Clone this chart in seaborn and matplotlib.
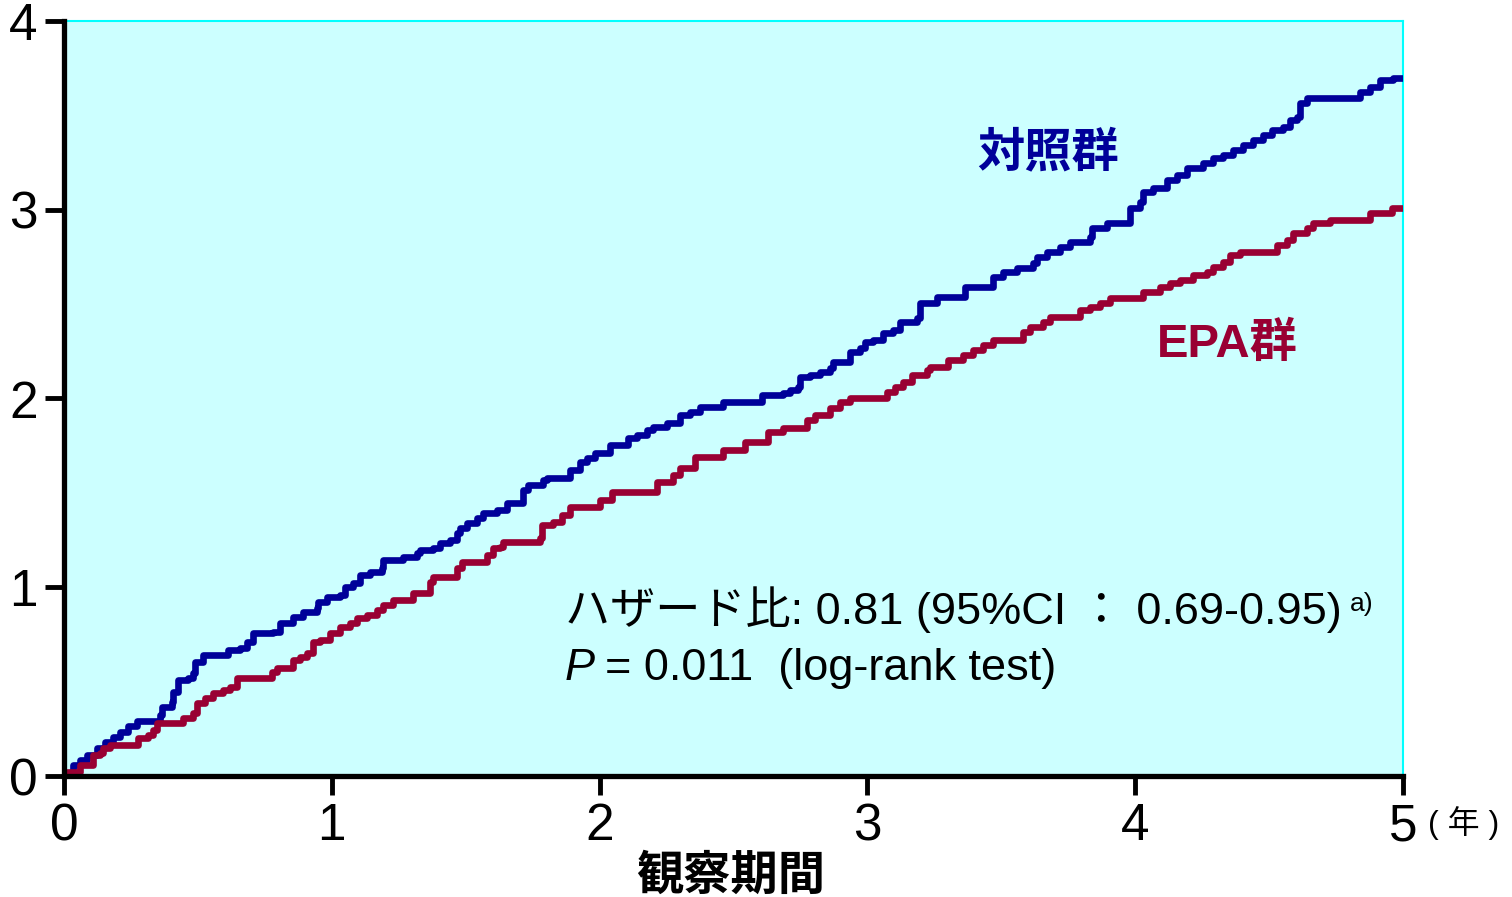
import matplotlib
matplotlib.use("Agg")
import matplotlib.pyplot as plt
import seaborn as sns
import pandas as pd

# cumulative incidence (%) by follow-up year (step points)
ctrl_t = [0, 0.011, 0.034, 0.060, 0.086, 0.123, 0.153, 0.183, 0.209, 0.239, 0.273, 0.358,
          0.366, 0.403, 0.407, 0.426, 0.463, 0.482, 0.489, 0.519, 0.612, 0.657, 0.683,
          0.706, 0.780, 0.807, 0.855, 0.892, 0.945, 0.948, 0.982, 1.031, 1.049, 1.079,
          1.105, 1.143, 1.187, 1.191, 1.266, 1.318, 1.329, 1.378, 1.404, 1.441, 1.467,
          1.479, 1.505, 1.542, 1.565, 1.617, 1.654, 1.714, 1.733, 1.789, 1.804, 1.889,
          1.927, 1.953, 1.983, 2.039, 2.106, 2.140, 2.177, 2.199, 2.252, 2.300, 2.338,
          2.375, 2.461, 2.606, 2.685, 2.711, 2.741, 2.748, 2.786, 2.823, 2.860, 2.872,
          2.935, 2.972, 2.991, 3.021, 3.058, 3.096, 3.122, 3.185, 3.196, 3.260, 3.364,
          3.469, 3.506, 3.559, 3.618, 3.633, 3.671, 3.719, 3.757, 3.831, 3.839, 3.895,
          3.981, 4.018, 4.029, 4.067, 4.119, 4.156, 4.193, 4.253, 4.290, 4.328, 4.365,
          4.402, 4.440, 4.477, 4.511, 4.552, 4.578, 4.604, 4.615, 4.641, 4.839, 4.877,
          4.914, 4.963, 5.0]
ctrl_y = [0, 0.016, 0.058, 0.085, 0.111, 0.148, 0.180, 0.207, 0.233, 0.265, 0.291, 0.323,
          0.366, 0.392, 0.445, 0.509, 0.519, 0.546, 0.604, 0.641, 0.668, 0.678, 0.710,
          0.758, 0.763, 0.811, 0.842, 0.869, 0.890, 0.922, 0.948, 0.959, 1.001, 1.023,
          1.065, 1.081, 1.102, 1.144, 1.160, 1.181, 1.197, 1.208, 1.234, 1.250, 1.287,
          1.314, 1.340, 1.367, 1.393, 1.409, 1.449, 1.515, 1.542, 1.568, 1.579, 1.621,
          1.664, 1.685, 1.711, 1.754, 1.791, 1.807, 1.833, 1.849, 1.870, 1.913, 1.929,
          1.955, 1.982, 2.019, 2.029, 2.045, 2.061, 2.114, 2.125, 2.140, 2.162, 2.193,
          2.246, 2.268, 2.299, 2.310, 2.347, 2.363, 2.405, 2.427, 2.506, 2.538, 2.591,
          2.644, 2.670, 2.691, 2.718, 2.750, 2.776, 2.803, 2.829, 2.856, 2.903, 2.930,
          3.009, 3.041, 3.094, 3.115, 3.158, 3.184, 3.221, 3.248, 3.274, 3.290, 3.317,
          3.343, 3.370, 3.396, 3.423, 3.439, 3.476, 3.491, 3.566, 3.592, 3.624, 3.650,
          3.687, 3.698, 3.698]

epa_t = [0, 0.011, 0.060, 0.108, 0.134, 0.146, 0.172, 0.276, 0.314, 0.332, 0.347, 0.444,
         0.482, 0.497, 0.527, 0.556, 0.594, 0.620, 0.646, 0.777, 0.795, 0.855, 0.881,
         0.907, 0.930, 0.956, 0.993, 1.031, 1.068, 1.094, 1.131, 1.169, 1.191, 1.229,
         1.303, 1.367, 1.378, 1.467, 1.486, 1.580, 1.602, 1.628, 1.639, 1.777, 1.785,
         1.826, 1.860, 1.889, 2.001, 2.046, 2.214, 2.274, 2.300, 2.356, 2.461, 2.543,
         2.629, 2.685, 2.774, 2.804, 2.860, 2.898, 2.935, 3.073, 3.103, 3.133, 3.167,
         3.223, 3.234, 3.301, 3.357, 3.394, 3.432, 3.469, 3.581, 3.607, 3.656, 3.682,
         3.794, 3.831, 3.869, 3.906, 4.029, 4.093, 4.130, 4.167, 4.216, 4.268, 4.291,
         4.328, 4.354, 4.391, 4.529, 4.567, 4.589, 4.642, 4.664, 4.728, 4.877, 4.959, 5.0]
epa_y = [0, 0.021, 0.058, 0.111, 0.122, 0.148, 0.164, 0.201, 0.217, 0.244, 0.281, 0.307,
         0.334, 0.387, 0.413, 0.440, 0.456, 0.472, 0.519, 0.551, 0.572, 0.615, 0.630,
         0.652, 0.710, 0.721, 0.758, 0.789, 0.811, 0.837, 0.853, 0.879, 0.906, 0.932,
         0.970, 1.028, 1.054, 1.102, 1.134, 1.171, 1.208, 1.213, 1.240, 1.261, 1.330,
         1.346, 1.383, 1.425, 1.462, 1.505, 1.558, 1.595, 1.632, 1.690, 1.727, 1.770,
         1.823, 1.844, 1.886, 1.913, 1.950, 1.981, 2.003, 2.034, 2.061, 2.087, 2.124,
         2.151, 2.167, 2.204, 2.230, 2.257, 2.283, 2.310, 2.352, 2.379, 2.405, 2.432,
         2.469, 2.485, 2.506, 2.532, 2.564, 2.591, 2.612, 2.628, 2.654, 2.670, 2.697,
         2.723, 2.760, 2.776, 2.813, 2.840, 2.877, 2.903, 2.930, 2.946, 2.983, 3.009, 3.009]

x_ticks = [0, 1, 2, 3, 4, 5]
y_ticks = [0, 1, 2, 3, 4]

CTRL = "#000099"
EPA = "#990033"

sns.set_theme(style="white")
plt.rcParams["font.family"] = ["Liberation Sans", "Noto Sans CJK JP"]
plt.rcParams["text.color"] = "black"
plt.rcParams["xtick.color"] = "black"
plt.rcParams["ytick.color"] = "black"

df = pd.concat([
    pd.DataFrame({"t": ctrl_t, "y": ctrl_y, "群": "対照群"}),
    pd.DataFrame({"t": epa_t, "y": epa_y, "群": "EPA群"}),
])

fig = plt.figure(figsize=(15.12, 8.97), dpi=100)
ax = fig.add_axes([64 / 1512, 1 - 776 / 897, (1403 - 64) / 1512, (776 - 21) / 897])
ax.set_facecolor("#CCFFFF")

sns.lineplot(data=df, x="t", y="y", hue="群", palette={"対照群": CTRL, "EPA群": EPA},
             drawstyle="steps-post", linewidth=4.8, legend=False, ax=ax, zorder=3)

ax.set_xlim(0, 5)
ax.set_ylim(0, 4)
ax.set_xticks(x_ticks)
ax.set_yticks(y_ticks)
ax.set_xticklabels([str(v) for v in x_ticks])
ax.set_yticklabels([str(v) for v in y_ticks])
ax.tick_params(axis="both", direction="out", length=14, width=3.5, colors="black",
               labelsize=37, pad=5, bottom=True, left=True)
ax.set_xlabel("")
ax.set_ylabel("")

for side in ("left", "bottom"):
    ax.spines[side].set_color("black")
    ax.spines[side].set_linewidth(3.8)
    ax.spines[side].set_zorder(5)
for side in ("top", "right"):
    ax.spines[side].set_color("#00FFFF")
    ax.spines[side].set_linewidth(1.5)

# group labels
ax.text(3.674, 3.306, "対照群", color=CTRL, fontsize=34, fontweight="bold",
        family=["Noto Sans CJK JP"], ha="center", va="center")
ax.text(4.343, 2.283, "EPA群", color=EPA, fontsize=34, fontweight="bold",
        family=["Liberation Sans", "Noto Sans CJK JP"], ha="center", va="center")

# statistics
fam = ["Liberation Sans", "Noto Sans CJK JP"]
ax.text(1.87, 0.88, "ハザード比: 0.81 (95%CI ： 0.69-0.95)", fontsize=32.5,
        family=fam, ha="left", va="center", color="black")
ax.text(4.80, 0.91, "a)", fontsize=19, family=fam, ha="left", va="center", color="black")
ax.text(1.87, 0.57, "P", fontsize=32.5, style="italic", family=fam,
        ha="left", va="center", color="black")
ax.text(2.02, 0.57, "= 0.011  (log-rank test)", fontsize=32.5, family=fam,
        ha="left", va="center", color="black")

# axis captions
fig.text(731 / 1512, 1 - 876 / 897, "観察期間", fontsize=34, fontweight="bold",
         family=["Noto Sans CJK JP"], ha="center", va="center")
fig.text(1464 / 1512, 1 - 823 / 897, "( 年 )", fontsize=23,
         family=["Liberation Sans", "Noto Sans CJK JP"], ha="center", va="center")

fig.savefig("out.png", dpi=100)
